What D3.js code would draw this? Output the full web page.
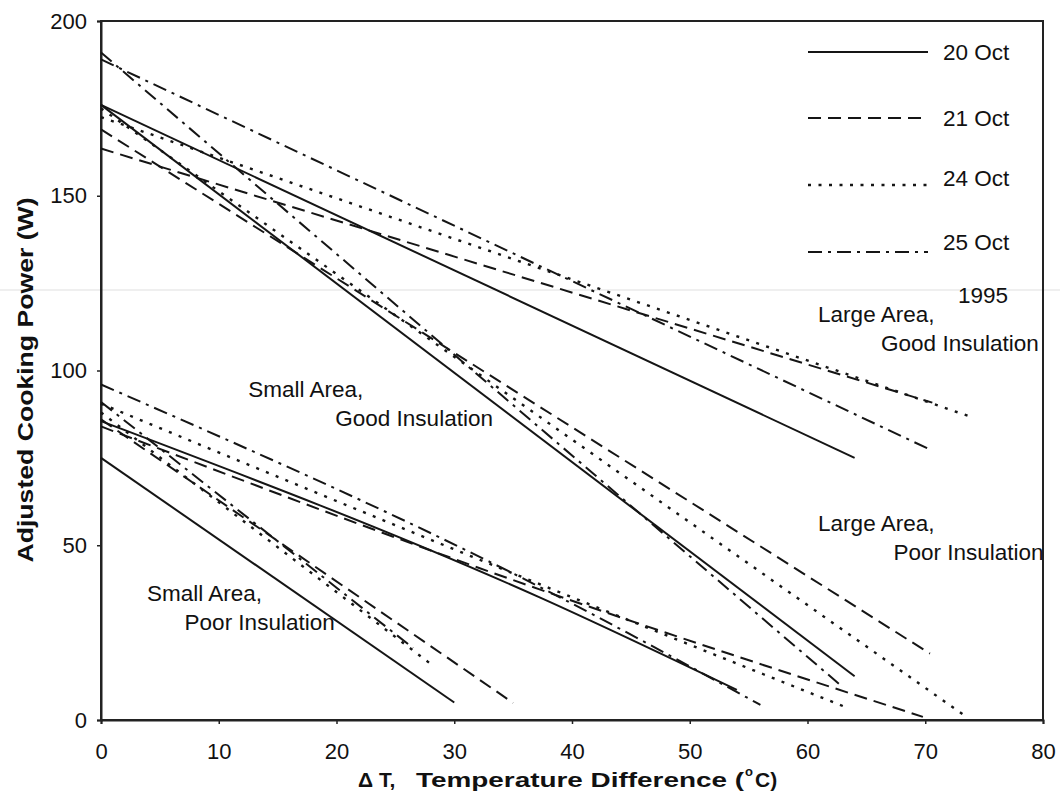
<!DOCTYPE html>
<html>
<head>
<meta charset="utf-8">
<script src="https://cdn.jsdelivr.net/npm/d3@7"></script>
<style>
  body { margin: 0; background: #fff; }
  svg { display: block; }
  text { font-family: "Liberation Sans", Arial, Helvetica, sans-serif; fill: #111; }
</style>
</head>
<body>
<svg id="chart" width="1060" height="805"></svg>
<script>
// dates in the legend (one line style each)
const dates = ["20 Oct", "21 Oct", "24 Oct", "25 Oct"];
const dashes = [null, "13,7", "3,7.5", "14,6,3,6"];

// [ΔT, power] points, one line per date
const largeGood = [
  [[0, 176], [64, 75]],
  [[0, 163.5], [70.6, 90.8]],
  [[0, 172.5], [74, 86.6]],
  [[0, 189], [70.2, 77.7]]
];
const largePoor = [
  [[0, 176], [64, 12.5]],
  [[0, 169], [70.4, 19]],
  [[0, 175], [73.5, 0.9]],
  [[0, 191], [63, 9.4]]
];
const smallGood = [
  [[0, 85.5], [37.3, 35], [54, 8.6]],
  [[0, 84], [37.3, 37.3], [69.8, 0.9]],
  [[0, 90.5], [37.3, 38.8], [63, 4]],
  [[0, 96], [37.3, 38], [56, 4.3]]
];
const smallPoor = [
  [[0, 75], [30, 5]],
  [[0, 86], [35, 4.9]],
  [[0, 88], [27.9, 16.3]],
  [[0, 91], [26.5, 20.6]]
];

const xTicks = [0, 10, 20, 30, 40, 50, 60, 70, 80];
const yTicks = [0, 50, 100, 150, 200];

// group labels: line1, line2, anchor [ΔT, power] of line 1, indent of line 2 (ΔT units)
const groupLabels = [
  ["Large Area,", "Good Insulation", 60.9, 114, 5.35],
  ["Large Area,", "Poor Insulation", 60.9, 54, 6.4],
  ["Small Area,", "Good Insulation", 12.5, 92.5, 7.4],
  ["Small Area,", "Poor Insulation", 3.9, 34, 3.2]
];

const svg = d3.select("#chart");
const margin = { left: 101, right: 1043, top: 21, bottom: 720 };

const x = d3.scaleLinear().domain([0, 80]).range([margin.left, margin.right]);
const y = d3.scaleLinear().domain([0, 200]).range([margin.bottom, margin.top]);

// faint scan line across the page
svg.append("line")
  .attr("x1", 0).attr("x2", 1060).attr("y1", 290).attr("y2", 290)
  .attr("stroke", "#efefef").attr("stroke-width", 2);

// frame
svg.append("rect")
  .attr("x", margin.left).attr("y", margin.top)
  .attr("width", margin.right - margin.left)
  .attr("height", margin.bottom - margin.top)
  .attr("fill", "none").attr("stroke", "#222").attr("stroke-width", 2);

// axes
const xAxis = svg.append("g")
  .attr("transform", `translate(0,${margin.bottom})`)
  .call(d3.axisBottom(x).tickValues(xTicks).tickSize(4).tickPadding(19));
const yAxis = svg.append("g")
  .attr("transform", `translate(${margin.left},0)`)
  .call(d3.axisLeft(y).tickValues(yTicks).tickSize(4).tickPadding(10));

[xAxis, yAxis].forEach(a => {
  a.select(".domain").attr("stroke", "#222").attr("stroke-width", 2);
  a.selectAll(".tick line").attr("stroke", "#222").attr("stroke-width", 1.5);
  a.selectAll(".tick text")
    .style("font-size", "22px")
    .attr("fill", "#111");
});

// data lines
const line = d3.line()
  .x(d => x(d[0])).y(d => y(d[1]))
  .curve(d3.curveMonotoneX);
const allSeries = [largeGood, largePoor, smallGood, smallPoor];

allSeries.forEach(series => {
  series.forEach((pts, i) => {
    svg.append("path")
      .datum(pts)
      .attr("d", line)
      .attr("fill", "none")
      .attr("stroke", "#151515")
      .attr("stroke-width", i === 2 ? 2.4 : 2)
      .attr("stroke-dasharray", dashes[i]);
  });
});

// legend
const legY = [52, 118, 185, 252];
const legTextY = [52, 118, 178, 242];
dates.forEach((d, i) => {
  svg.append("line")
    .attr("x1", 808).attr("x2", 928)
    .attr("y1", legY[i]).attr("y2", legY[i])
    .attr("stroke", "#151515").attr("stroke-width", i === 2 ? 2.4 : 2)
    .attr("stroke-dasharray", dashes[i]);
  svg.append("text")
    .attr("x", 943).attr("y", legTextY[i])
    .attr("dy", "0.35em")
    .style("font-size", "22.5px")
    .text(d);
});
svg.append("text")
  .attr("x", 958).attr("y", 303)
  .style("font-size", "22.5px")
  .text("1995");

// group annotations
groupLabels.forEach(g => {
  const tx = x(g[2]), ty = y(g[3]);
  svg.append("text")
    .attr("x", tx).attr("y", ty)
    .style("font-size", "22.5px")
    .text(g[0]);
  svg.append("text")
    .attr("x", x(g[2] + g[4]))
    .attr("y", ty + 29)
    .style("font-size", "22.5px")
    .text(g[1]);
});

// axis titles
svg.append("text")
  .attr("transform", "translate(33,380) rotate(-90)")
  .attr("text-anchor", "middle")
  .style("font-size", "22px")
  .style("font-weight", "bold")
  .attr("textLength", 365)
  .attr("lengthAdjust", "spacingAndGlyphs")
  .text("Adjusted Cooking Power (W)");

const xt = svg.append("text")
  .attr("x", 358).attr("y", 787)
  .style("font-size", "21px")
  .style("font-weight", "bold");
xt.append("tspan").text("\u0394 T,");
xt.append("tspan").attr("x", 416).attr("textLength", 328)
  .attr("lengthAdjust", "spacingAndGlyphs").text("Temperature Difference (");
xt.append("tspan").attr("x", 745).attr("y", 776).style("font-size", "13px").text("o");
xt.append("tspan").attr("x", 755).attr("y", 787).text("C)");
</script>
</body>
</html>
